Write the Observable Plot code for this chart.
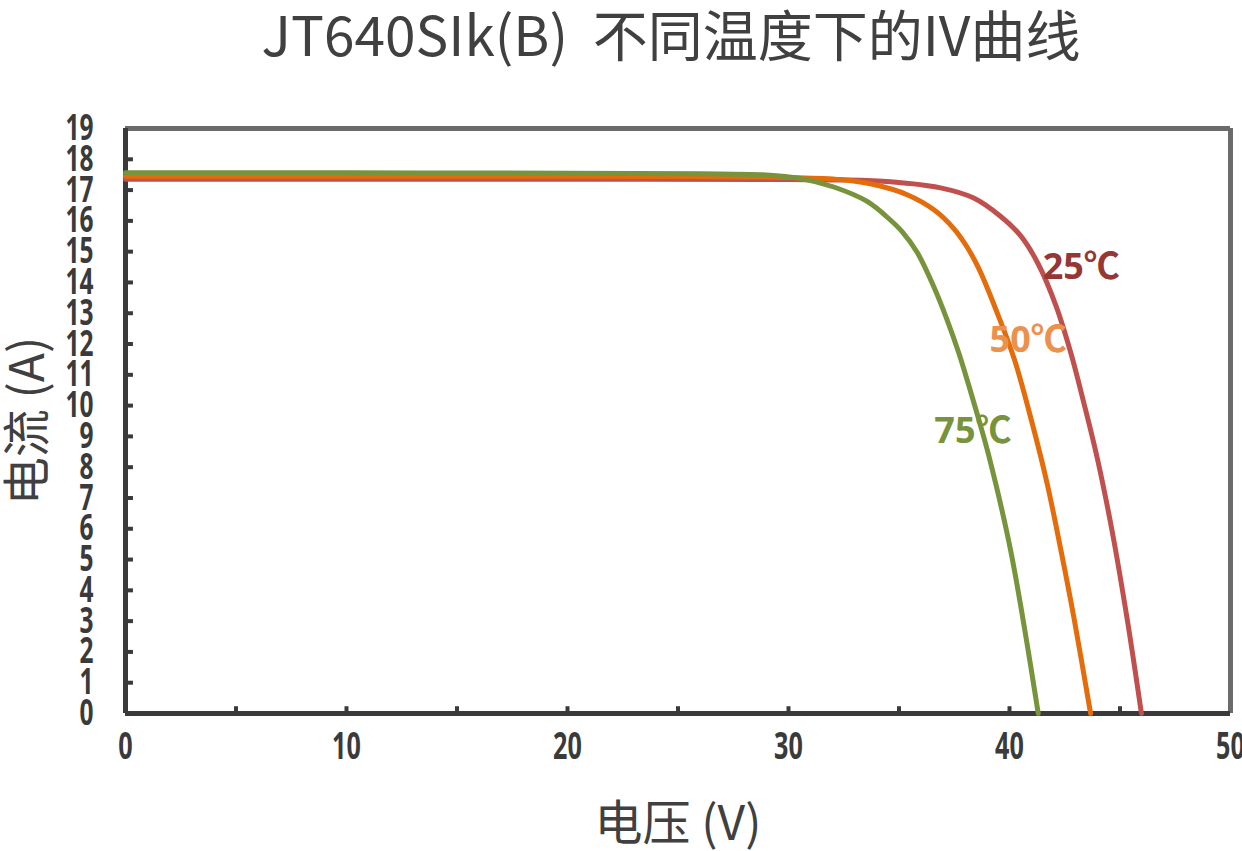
<!DOCTYPE html>
<html>
<head>
<meta charset="utf-8">
<script src="https://cdn.jsdelivr.net/npm/d3@7"></script>
<script src="https://cdn.jsdelivr.net/npm/@observablehq/plot@0.6"></script>
<style>
  body { margin: 0; background: #fff; }
  #title { height: 75px; line-height: 64px; padding-left: 100px; text-align: center; font-family: "Noto Sans CJK SC", "Noto Sans", sans-serif; font-size: 55px; color: #404040; white-space: pre; box-sizing: border-box; }
</style>
</head>
<body>
<div id="title">JT640SIk(B)  不同温度下的IV曲线</div>
<div id="chart"></div>
<script>
// Series: voltage (V) and current (A)
const v25 = [0, 10, 20, 30, 32.35, 34.62, 36.88, 38.38, 39.59, 40.5, 41.3, 42.1, 42.76, 43.36, 43.97, 44.65, 45.34, 45.97];
const i25 = [17.35, 17.35, 17.35, 17.34, 17.33, 17.27, 17.07, 16.74, 16.15, 15.52, 14.6, 13.25, 11.75, 10.1, 8.3, 5.9, 3.0, 0];
const v50 = [0, 10, 20, 26, 30, 32.35, 33.86, 35.37, 36.58, 37.48, 38.08, 38.64, 39.57, 40.23, 41.0, 41.7, 42.3, 42.91, 43.67];
const i50 = [17.45, 17.45, 17.45, 17.44, 17.41, 17.34, 17.18, 16.85, 16.36, 15.75, 15.15, 14.41, 12.78, 11.48, 9.5, 7.48, 5.4, 3.13, 0];
const v75 = [0, 10, 20, 26, 29.0, 30.5, 32.05, 33.56, 34.62, 35.14, 35.82, 36.57, 37.18, 37.71, 38.16, 38.61, 39.06, 40.05, 41.3];
const i75 = [17.56, 17.56, 17.55, 17.53, 17.49, 17.38, 17.1, 16.63, 16.02, 15.65, 14.98, 13.87, 12.78, 11.7, 10.65, 9.55, 8.38, 5.3, 0];

const seriesNames = ["25℃", "50℃", "75℃"];
const lineColors = ["#c0504d", "#e46c0a", "#77933c"];
const labelColors = ["#953735", "#eb914d", "#77933c"];
// label anchor points (V, A)
const labelV = [41.5, 39.1, 36.6];
const labelI = [14.5, 12.1, 9.15];

const xTicks = [0, 10, 20, 30, 40, 50];
const xMinorTicks = [5, 10, 15, 20, 25, 30, 35, 40, 45];
const yTicks = d3.range(0, 20);
const yInnerTicks = d3.range(1, 19);

const toRows = (vs, is, name) => vs.map((v, k) => ({V: v, I: is[k], s: name}));
const rows25 = toRows(v25, i25, seriesNames[0]);
const rows50 = toRows(v50, i50, seriesNames[1]);
const rows75 = toRows(v75, i75, seriesNames[2]);
const labels = seriesNames.map((n, k) => ({n, V: labelV[k], I: labelI[k], c: labelColors[k]}));

const tickFont = {fontFamily: "'Open Sans', sans-serif", fontWeight: "bold"};

const chart = Plot.plot({
  width: 1242,
  height: 776,
  marginTop: 53,
  marginBottom: 138,
  marginLeft: 125,
  marginRight: 12,
  x: {domain: [0, 50]},
  y: {domain: [0, 19]},
  style: {color: "#3a3a3a"},
  marks: [
    Plot.axisX({ticks: xTicks, tickSize: 0, tickPadding: 19, fontSize: 37, ...tickFont, label: null}),
    Plot.axisX({ticks: [], label: "电压 (V)", labelAnchor: "center", labelArrow: "none", labelOffset: 126, fontSize: 48, fontFamily: "'Noto Sans CJK SC', sans-serif", fill: "#404040"}),
    Plot.axisY({ticks: yTicks, tickSize: 0, tickPadding: 32, fontSize: 36, ...tickFont, label: null}),
    Plot.axisY({ticks: [], label: "电流 (A)", labelAnchor: "center", labelArrow: "none", labelOffset: 116, fontSize: 48, fontFamily: "'Noto Sans CJK SC', sans-serif", fill: "#404040"}),
    Plot.ruleY(yInnerTicks, {y: d => d, x1: 0, x2: 0.36, stroke: "#3a3a3a", strokeWidth: 4}),
    Plot.ruleX(xMinorTicks, {x: d => d, y1: 0, y2: 0.22, stroke: "#3a3a3a", strokeWidth: 4}),
    Plot.ruleY([19], {stroke: "#6b6b6b", strokeWidth: 5}),
    Plot.ruleX([50], {stroke: "#6b6b6b", strokeWidth: 5}),
    Plot.ruleX([0], {stroke: "#3a3a3a", strokeWidth: 5}),
    Plot.ruleY([0], {stroke: "#3a3a3a", strokeWidth: 5}),
    Plot.line(rows25, {x: "V", y: "I", stroke: lineColors[0], strokeWidth: 5, curve: "catmull-rom"}),
    Plot.line(rows50, {x: "V", y: "I", stroke: lineColors[1], strokeWidth: 5, curve: "catmull-rom"}),
    Plot.line(rows75, {x: "V", y: "I", stroke: lineColors[2], strokeWidth: 5, curve: "catmull-rom"}),
    Plot.text(labels, {x: "V", y: "I", text: "n", fill: "c", textAnchor: "start", fontSize: 36, fontWeight: "bold", fontFamily: "'Open Sans', 'Noto Sans CJK SC', sans-serif"})
  ]
});
document.getElementById("chart").appendChild(chart);
// condense the tick label glyphs horizontally (reference uses a condensed face)
d3.select(chart).selectAll("g[aria-label$='tick label'] text").each(function() {
  const len = this.getComputedTextLength();
  if (len > 0) {
    this.setAttribute("textLength", (len * 0.68).toFixed(2));
    this.setAttribute("lengthAdjust", "spacingAndGlyphs");
  }
});
</script>
</body>
</html>
